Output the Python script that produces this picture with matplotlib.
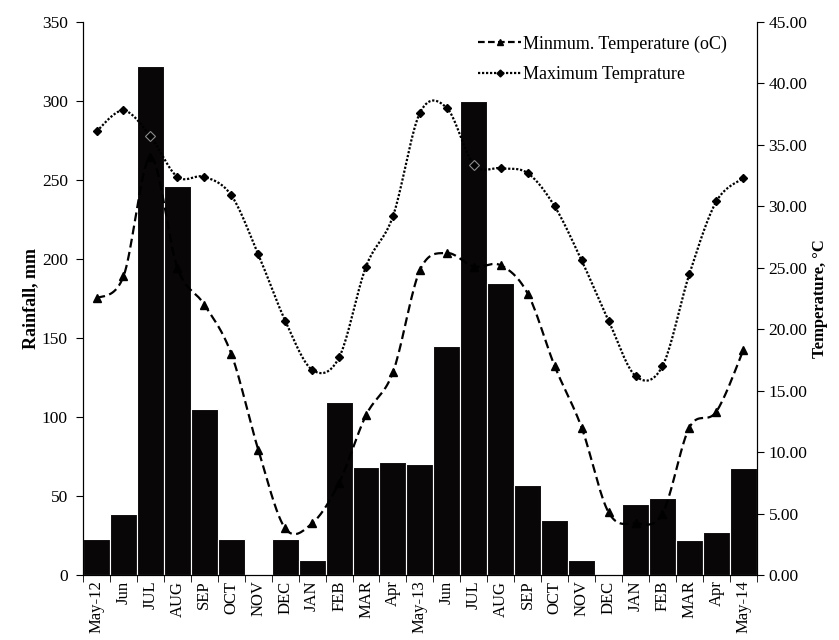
import numpy as np
import matplotlib
matplotlib.use("Agg")
from matplotlib import pyplot as plt
from matplotlib.lines import Line2D

plt.rcParams['font.family'] = ['Liberation Serif', 'DejaVu Serif']

months = ['May-12', 'Jun', 'JUL', 'AUG', 'SEP', 'OCT', 'NOV', 'DEC', 'JAN',
          'FEB', 'MAR', 'Apr', 'May-13', 'Jun', 'JUL', 'AUG', 'SEP', 'OCT',
          'NOV', 'DEC', 'JAN', 'FEB', 'MAR', 'Apr', 'May-14']
rainfall = [23, 38.5, 322, 246, 105, 23, 0, 23, 9.5, 109.5, 68.5, 71.5, 70,
            145, 300, 185, 57, 35, 9.5, 0, 45, 49, 22, 27, 68]
min_temp = [22.5, 24.3, 34.0, 25.0, 22.0, 18.0, 10.2, 3.8, 4.2, 7.5, 13.0,
            16.5, 24.8, 26.2, 25.1, 25.2, 22.9, 17.0, 12.0, 5.1, 4.2, 5.0,
            12.0, 13.3, 18.3]
max_temp = [36.1, 37.8, 35.7, 32.4, 32.4, 30.9, 26.1, 20.7, 16.7, 17.7, 25.1,
            29.2, 37.6, 38.0, 33.4, 33.1, 32.7, 30.0, 25.6, 20.7, 16.2, 17.0,
            24.5, 30.4, 32.3]


def smooth(x, y, n=20):
    # excel-like smoothed line (catmull-rom bezier)
    p = np.column_stack([x, y]).astype(float)
    p = np.vstack([p[0], p, p[-1]])
    t = np.linspace(0, 1, n)[:, None]
    out = []
    for i in range(1, len(p) - 2):
        p0, p1, p2, p3 = p[i - 1], p[i], p[i + 1], p[i + 2]
        c1 = p1 + (p2 - p0) / 6
        c2 = p2 - (p3 - p1) / 6
        seg = ((1 - t) ** 3 * p1 + 3 * (1 - t) ** 2 * t * c1
               + 3 * (1 - t) * t ** 2 * c2 + t ** 3 * p2)
        out.append(seg)
    out = np.vstack(out)
    return out[:, 0], out[:, 1]


x = np.arange(len(months))

fig = plt.figure(figsize=(8.39, 6.4), dpi=100)
ax = fig.add_axes([0.099, 0.1016, 0.803, 0.864])
ax.bar(x, rainfall, width=1.0, color='#080606', edgecolor='white', linewidth=0.8)
ax.set_xlim(-0.5, len(months) - 0.5)
ax.set_ylim(0, 350)
ax.set_yticks(range(0, 351, 50))
ax.set_xticks(x)
ax.set_xticklabels(months, rotation=90)
ax.set_xticks(np.arange(-0.5, len(months)), minor=True)
ax.tick_params(axis='x', which='major', length=0, labelsize=12, pad=4)
ax.tick_params(axis='x', which='minor', length=5, direction='out')
ax.tick_params(axis='y', labelsize=12.5, length=5, direction='out', pad=6)
ax.set_ylabel('Rainfall, mm', fontsize=13, fontweight='bold', labelpad=2)
ax.spines['top'].set_visible(False)

ax2 = ax.twinx()
ax2.set_ylim(0, 45)
ax2.set_yticks(range(0, 46, 5))
ax2.set_yticklabels(['%.2f' % v for v in range(0, 46, 5)])
ax2.tick_params(axis='y', labelsize=12.5, length=5, direction='out')
ax2.set_ylabel('Temperature, °C', fontsize=12, fontweight='bold', labelpad=3)
ax2.spines['top'].set_visible(False)

sx, sy = smooth(x, min_temp)
ax2.plot(sx, sy, color='black', lw=1.6, ls=(0, (4, 2)))
ax2.plot(x, min_temp, ls='none', marker='^', ms=6, color='black')
sx, sy = smooth(x, max_temp)
ax2.plot(sx, sy, color='black', lw=1.6, ls=(0, (1, 0.8)))
ax2.plot(x, max_temp, ls='none', marker='D', ms=4, color='black')

# points hidden behind the tall july bars
jul = [i for i, m in enumerate(months) if m == 'JUL']
ax2.plot(x[jul], np.array(max_temp)[jul], ls='none', marker='D', ms=5,
         mfc='none', mec='0.55', mew=0.8)

h_min = Line2D([0, 1, 2], [0, 0, 0], color='black', lw=1.6, ls=(0, (3, 1.5)),
               marker='^', ms=5, markevery=[1])
h_max = Line2D([0, 1, 2], [0, 0, 0], color='black', lw=1.6, ls=(0, (1, 0.8)),
               marker='D', ms=3.5, markevery=[1])
ax2.legend([h_min, h_max], ['Minmum. Temperature (oC)', 'Maximum Temprature'],
           loc='upper right', bbox_to_anchor=(0.98, 1.005), frameon=False,
           fontsize=13, handlelength=2.4, handletextpad=0.1, labelspacing=0.75)

fig.savefig('out.png', dpi=100)
